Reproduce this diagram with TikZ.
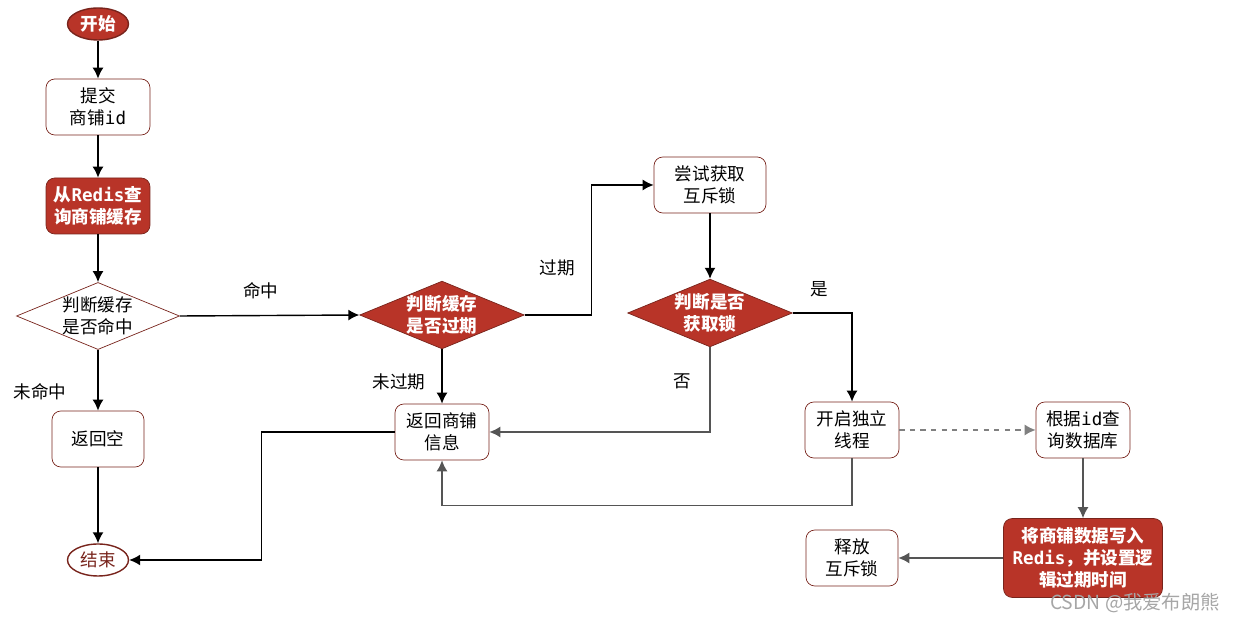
\documentclass[tikz,border=0pt]{standalone}
\usepackage{fontspec}
\setmainfont{Noto Sans CJK SC}
\newfontfamily\codefont{DejaVu Sans Mono}
\usetikzlibrary{positioning}
\usetikzlibrary{arrows.meta}
\usetikzlibrary{shapes.geometric}
\definecolor{boxred}{RGB}{184,52,40}
\definecolor{boxedge}{RGB}{120,36,28}
\definecolor{linegray}{RGB}{85,85,85}

\begin{document}
\begin{tikzpicture}[x=0.02cm, y=-0.02cm, >={Latex[length=2.2mm,width=2.2mm]}, font=\fontsize{10}{12.5}\selectfont,
    box/.style={draw=boxedge, rounded corners=5pt, fill=white, minimum width=1.88cm, minimum height=1.12cm, align=center, inner sep=2pt},
    redbox/.style={box, fill=boxred, text=white, font=\fontsize{10}{12.5}\selectfont\bfseries},
    decision/.style={diamond, draw=boxedge, fill=white, aspect=2.43, inner sep=0pt, minimum width=3.26cm, minimum height=1.34cm, align=center},
    reddecision/.style={decision, fill=boxred, text=white, font=\fontsize{10}{12.5}\selectfont\bfseries},
    terminal/.style={ellipse, draw=boxedge, thick, minimum width=1.22cm, minimum height=0.64cm, inner sep=0pt}]
    \useasboundingbox (0,0) rectangle (1235,617);
    % left column
    \node[terminal, fill=boxred, text=white, font=\fontsize{10}{12.5}\selectfont\bfseries] (start) at (98,24) {开始};
    \node[box, minimum width=2.08cm] (submit) at (98,107) {提交\\商铺{\codefont id}};
    \node[redbox, minimum width=2.08cm] (query) at (98,206) {从{\codefont Redis}查\\询商铺缓存};
    \node[decision] (hit) at (98,316) {判断缓存\\是否命中};
    \node[box, minimum width=1.84cm] (empty) at (98,439) {返回空};
    \node[terminal, fill=white, text=boxedge] (end) at (98,560) {结束};
    % middle
    \node[reddecision] (expire) at (442,315) {判断缓存\\是否过期};
    \node[box] (info) at (442,432) {返回商铺\\信息};
    \node[box, minimum width=2.24cm] (try) at (710,185) {尝试获取\\互斥锁};
    \node[reddecision] (lock) at (710,313) {判断是否\\获取锁};
    % right
    \node[box] (thread) at (852,430) {开启独立\\线程};
    \node[box] (db) at (1083,430) {根据{\codefont id}查\\询数据库};
    \node[redbox, minimum width=3.18cm, minimum height=1.58cm] (write) at (1083,558) {将商铺数据写入\\{\codefont Redis}，并设置逻\\辑过期时间};
    \node[box, minimum width=1.84cm] (release) at (852,558) {释放\\互斥锁};

    \draw[->, thick] (start) -- (submit);
    \draw[->, thick] (submit) -- (query);
    \draw[->, thick] (query) -- (hit);
    \draw[->, thick] (hit) -- node[pos=0.69, left=0.5cm] {未命中} (empty);
    \draw[->, thick] (empty) -- (end);
    \draw[->, thick] (hit.east) -- node[pos=0.45, above=0.2cm] {命中} (expire.west);
    \draw[->, thick] (expire) -- node[pos=0.6, left=0.2cm] {未过期} (info);
    \draw[->, thick] (expire.east) -- ++(67,0) |- node[pos=0.18, left=0.2cm] {过期} (try.west);
    \draw[->, thick] (try) -- (lock);
    \draw[->, thick] (lock.east) -| node[pos=0.22, above=0.2cm] {是} (thread.north);
    \draw[->, thick, linegray] (lock.south) |- node[pos=0.2, left=0.25cm, black] {否} (info.east);
    \draw[->, thick, linegray] (thread.south) -- ++(0,47) -| (info.south);
    \draw[->, thick] (info.west) -- ++(-133,0) |- (end.east);
    \draw[->, thick, dashed, gray] (thread) -- (db);
    \draw[->, thick, linegray] (db) -- (write);
    \draw[->, thick, linegray] (write) -- (release);

    \node[text=gray!70, font=\fontsize{11}{13}\selectfont] (mark) at (1135,603) {CSDN @我爱布朗熊};
\end{tikzpicture}
\end{document}
